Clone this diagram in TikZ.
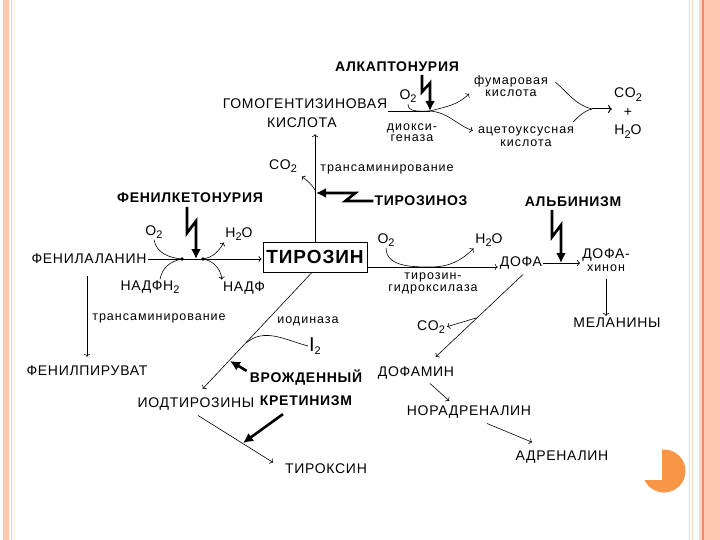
\documentclass[tikz,border=0pt]{standalone}
\usepackage{fontspec}
\setmainfont{Liberation Sans}
\newfontfamily\capfont[LetterSpace=5]{Liberation Sans}
\newfontfamily\smfont[LetterSpace=8]{Liberation Sans}
\usetikzlibrary{arrows, arrows.meta, positioning, calc}
\definecolor{peach}{RGB}{255,200,178}
\definecolor{peachline}{RGB}{238,140,110}
\definecolor{paleline}{RGB}{245,215,200}
\definecolor{pie}{RGB}{247,150,70}
\newcommand{\idx}[1]{\raisebox{-0.45ex}{\fontsize{11}{11}\selectfont #1}}
\tikzset{
	lbl/.style={font=\capfont\fontsize{14}{16}\selectfont, inner sep=1pt},
	sml/.style={font=\smfont\fontsize{12.5}{11}\selectfont, inner sep=1pt, align=center},
	dis/.style={font=\capfont\bfseries\fontsize{14}{23}\selectfont, inner sep=1pt, align=center},
	ln/.style={line width=0.6pt},
	arr/.style={->, line width=0.6pt, shorten >=1pt},
	bolt/.style={-{Latex[length=10pt, width=10pt]}, line width=2.6pt}
}

\begin{document}
\begin{tikzpicture}[x=1pt,y=1pt]
		\useasboundingbox (0,0) rectangle (720,-540);
		%frame
		\fill[white] (0,0) rectangle (720,-540);
		\fill[peach] (3,0) rectangle (9,-540);
		\draw[paleline, line width=1pt] (11.5,0) -- (11.5,-540);
		\draw[paleline!50, line width=1pt] (14,0) -- (14,-540);
		\draw[paleline, line width=1pt] (689,0) -- (689,-540);
		\draw[paleline, line width=1pt] (692,0) -- (692,-540);
		\fill[peach!70] (699,0) rectangle (702,-540);
		\fill[peachline] (702,0) rectangle (703.5,-540);
		\fill[peach] (703.5,0) rectangle (720,-540);
		\fill[pie] (664,-471) circle (21.5);
		\fill[white] (640,-446) rectangle (662,-480);
		
		%labels top
		\node[dis] (alk) at (397,-67) {АЛКАПТОНУРИЯ};
		\node[lbl] (hga1) at (305,-104) {ГОМОГЕНТИЗИНОВАЯ};
		\node[lbl] (hga2) at (302,-123) {КИСЛОТА};
		\node[lbl] (o2a) at (408,-96) {O\idx{2}};
		\node[sml] (diox) at (412,-133) {диокси-\\[0pt]геназа};
		\node[sml] (fum) at (511,-86) {фумаровая\\[1pt]кислота};
		\node[sml] (acet) at (526,-137) {ацетоуксусная\\[2pt]кислота};
		\node[lbl, align=center] (fin) at (628,-113) {CO\idx{2}\\[2.5pt]+\\[2.5pt]H\idx{2}O};
		\node[lbl] (co2a) at (283,-166) {CO\idx{2}};
		\node[sml] (tr1) at (387,-169) {трансаминирование};
		
		%labels middle
		\node[dis] (tys) at (421,-201) {ТИРОЗИНОЗ};
		\node[dis] (alb) at (573,-202) {АЛЬБИНИЗМ};
		\node[dis] (pku) at (190,-198) {ФЕНИЛКЕТОНУРИЯ};
		\node[lbl] (phe) at (89,-259) {ФЕНИЛАЛАНИН};
		\node[lbl] (o2b) at (154,-232) {O\idx{2}};
		\node[lbl] (h2ob) at (239,-234) {H\idx{2}O};
		\node[lbl] (nadph) at (150,-287) {НАДФН\idx{2}};
		\node[lbl] (nadp) at (244,-288) {НАДФ};
		\node[draw, line width=0.8pt, minimum width=104pt, minimum height=30pt,
			font=\capfont\bfseries\fontsize{19}{20}\selectfont] (tyr) at (315,-257) {ТИРОЗИН};
		\node[lbl] (o2c) at (386,-240) {O\idx{2}};
		\node[lbl] (h2oc) at (489,-240) {H\idx{2}O};
		\node[lbl] (dopa) at (521,-263) {ДОФА};
		\node[sml] (hyd) at (433,-283) {тирозин-\\[1pt]гидроксилаза};
		\node[lbl, align=center] (dq) at (606,-260) {ДОФА-\\[-3pt]{\smfont\fontsize{12.5}{11}\selectfont хинон}};
		\node[lbl] (mel) at (617,-323) {МЕЛАНИНЫ};
		
		%labels bottom
		\node[lbl] (co2d) at (431,-327) {CO\idx{2}};
		\node[lbl] (dpm) at (416,-373) {ДОФАМИН};
		\node[lbl] (nor) at (469,-412) {НОРАДРЕНАЛИН};
		\node[lbl] (adr) at (562,-457) {АДРЕНАЛИН};
		\node[sml] (tr2) at (159,-318) {трансаминирование};
		\node[lbl] (pp) at (87,-371) {ФЕНИЛПИРУВАТ};
		\node[sml] (iodn) at (308,-321) {иодиназа};
		\node[lbl] (i2) at (315,-346) {{\fontsize{20}{20}\selectfont I}\idx{2}};
		\node[dis] (cret) at (306,-388) {ВРОЖДЕННЫЙ\\КРЕТИНИЗМ};
		\node[lbl] (iodt) at (196,-404) {ИОДТИРОЗИНЫ};
		\node[lbl] (thx) at (326,-469) {ТИРОКСИН};
		
		%junctions
		\coordinate (jA) at (430,-111);
		\coordinate (jE) at (592,-109);
		\coordinate (jT) at (315,-190);
		\coordinate (jZ) at (316,-193);
		\coordinate (d1) at (182,-259);
		\coordinate (d2) at (203,-259);
		\coordinate (dM) at (196,-259);
		\coordinate (jD) at (430,-267);
		\coordinate (jB) at (561,-263);
		\coordinate (jC) at (476,-318);
		\coordinate (jI) at (246,-343);
		\coordinate (jK) at (230,-361);
		\coordinate (jX) at (243,-443);
		
		%homogentisic acid
		\draw[ln] (hga1.east |- jA) -- (jA);
		\draw[ln] (o2a.south) to[out=-95, in=180] (jA);
		\draw[arr] (jA) to[out=15, in=225] ($(fum.west)+(-3,-7)$);
		\draw[arr] (jA) to[out=-5, in=160] ($(acet.west)+(-3,6)$);
		\draw[bolt] ($(jA)+(-8,36)$) -- ++(0,-17) -- ++(8,9) -- (jA);
		\draw[ln] ($(fum.east)+(6,4)$) to[out=-40, in=165] (jE);
		\draw[ln] ($(acet.north east)+(-2,4)$) to[out=45, in=195] (jE);
		\draw[arr, line width=1pt] (jE) -- (fin.west |- jE);
		
		%tyrosine up
		\draw[arr, shorten >=5pt] (tyr.north) -- (tyr.north |- hga2.south);
		\draw[arr] (jT) to[out=120, in=-40] ($(co2a.south east)+(3,-2)$);
		\draw[bolt] (tys.west) -- ++(-28,0) -- ++(10,8) -- (jZ);
		
		%phenylalanine
		\draw[arr] (phe.east) -- (tyr.west |- phe.east);
		\fill (d1) circle (1.8);
		\fill (d2) circle (1.8);
		\draw[ln] (o2b.south) to[out=-80, in=175] (d1);
		\draw[ln] (d1) to[out=190, in=80] ($(nadph.north)+(10,0)$);
		\draw[arr] (d2) to[out=10, in=-120] (h2ob.south west);
		\draw[arr] (d2) to[out=-10, in=95] (nadp.north west);
		\draw[bolt] ($(dM)+(-9,52)$) -- ++(0,-26) -- ++(9,12) -- (dM);
		\draw[arr] ($(phe.south)+(-2,-11)$) -- ($(pp.north)+(0,7)$);
		
		%dopa
		\draw[arr] (tyr.east |- jD) -- (dopa.west |- jD);
		\draw[arr] (o2c.south) to[out=-90, in=180] (jD) to[out=0, in=-135] (h2oc.south west);
		\draw[arr] (dopa.east) -- (dq.west |- dopa.east);
		\draw[bolt] ($(jB)+(-9,53)$) -- ++(0,-27) -- ++(9,12) -- (jB);
		\draw[arr, shorten <=6pt] (dq.south) -- (dq.south |- mel.north);
		\draw[arr] ($(dopa.south)+(2,-4)$) -- ($(dpm.north)+(19,8)$);
		\draw[arr] (jC) -- (co2d.east);
		\draw[arr] ($(dpm.south)+(14,-3)$) -- ($(nor.north)+(-19,3)$);
		\draw[arr] ($(nor.south)+(18,-4)$) -- ($(adr.north)+(-29,7)$);
		
		%iodine
		\draw[arr] ($(tyr.south)+(-3,0)$) -- ($(iodt.north)+(6,7)$);
		\draw[ln] (i2.west) to[out=165, in=40] (jI);
		\draw[bolt] ($(cret.north west)+(-2,-2)$) -- (jK);
		\draw[arr] ($(iodt.south)+(2,-4)$) -- ($(thx.west)+(-10,6)$);
		\draw[bolt] ($(cret.south)+(-23,-7)$) -- (jX);
\end{tikzpicture}
\end{document}
